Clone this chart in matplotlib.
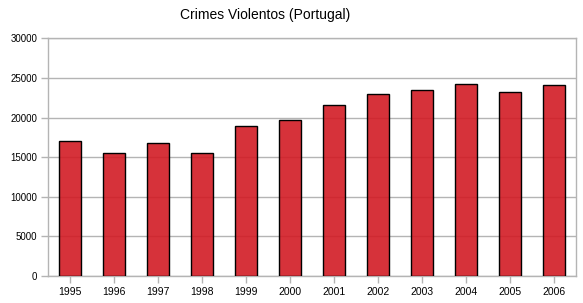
import numpy as np
import matplotlib.pyplot as plt

plt.rcParams['font.family'] = ['Liberation Sans', 'DejaVu Sans']

anos = ['1995', '1996', '1997', '1998', '1999', '2000',
        '2001', '2002', '2003', '2004', '2005', '2006']
crimes = [17000, 15500, 16750, 15500, 19000, 19750,
          21550, 23050, 23450, 24300, 23300, 24150]
yticks = [0, 5000, 10000, 15000, 20000, 25000, 30000]

fig = plt.figure(figsize=(5.83, 3.03), dpi=100)
ax = fig.add_axes([0.0828, 0.0891, 0.9052, 0.7839])

x = np.arange(len(anos))
ax.bar(x, crimes, width=0.5, color='#d21b24', alpha=0.9, zorder=3)
ax.bar(x, crimes, width=0.5, color='none', edgecolor='black', linewidth=1.0, zorder=4)

ax.set_xlim(-0.5, len(anos) - 0.5)
ax.set_ylim(0, 30000)
ax.set_yticks(yticks)
ax.set_yticklabels([str(v) for v in yticks], fontsize=7)
ax.set_xticks(x)
ax.set_xticklabels(anos, fontsize=7.5)
ax.grid(axis='y', color='#b4b4b4', linewidth=1, zorder=0)
for s in ax.spines.values():
    s.set_color('#b4b4b4')
    s.set_linewidth(1)
ax.tick_params(axis='both', colors='#b4b4b4', labelcolor='black', length=5, width=1, pad=3)

fig.text(0.455, 0.95, 'Crimes Violentos (Portugal)', ha='center', va='center', fontsize=10)

plt.savefig('out.png', dpi=100)
